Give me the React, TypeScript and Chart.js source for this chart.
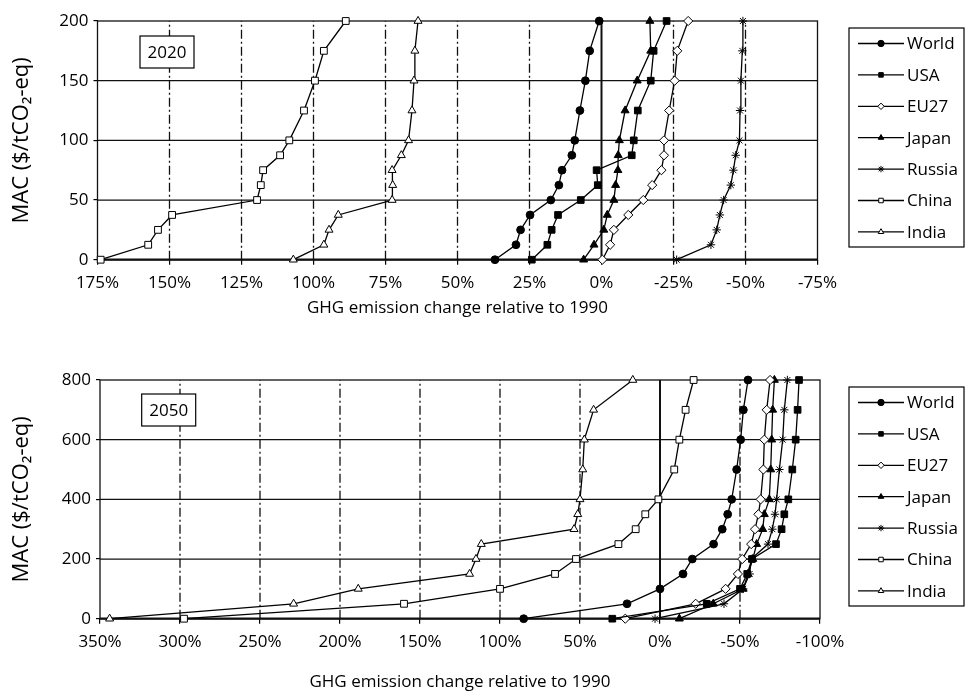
import React, { useEffect, useRef } from 'react';
import { Chart, registerables } from 'chart.js';

Chart.register(...registerables);

const FONT_FAMILY = "'Open Sans', 'Noto Sans', sans-serif";

// ---- series metadata ----
const seriesLabels = ['World', 'USA', 'EU27', 'Japan', 'Russia', 'China', 'India'];
const seriesMarkers = ['circle', 'rect', 'rectRot', 'triangle', 'star', 'rect', 'triangle'];
const seriesFilled = [true, true, false, true, true, false, false];
const markerRadius = [3.9, 4.7, 4.6, 4.6, 4.2, 4.8, 4.6];

// ---- 2020 panel ----
const mac2020 = [0, 12.5, 25, 37.5, 50, 62.5, 75, 87.5, 100, 125, 150, 175, 200];
const world2020 = [37.0, 29.7, 28.1, 24.8, 17.6, 14.8, 13.7, 10.3, 9.3, 7.5, 5.6, 4.1, 0.8];
const usa2020 = [24.2, 18.8, 17.3, 15.1, 7.2, 1.3, 1.7, -10.5, -11.2, -12.6, -17.1, -18.1, -22.6];
const eu2020 = [-0.3, -3.0, -4.3, -9.3, -14.5, -17.6, -20.8, -21.7, -21.7, -23.5, -25.4, -26.3, -30.1];
const japan2020 = [6.2, 2.6, -0.8, -2.0, -4.3, -4.9, -5.7, -5.8, -6.2, -8.2, -12.4, -17.1, -16.8];
const russia2020 = [-26.1, -38.0, -40.0, -41.1, -42.4, -44.9, -45.8, -46.6, -47.9, -48.1, -48.4, -48.9, -49.1];
const china2020 = [173.9, 157.4, 154.0, 149.1, 119.6, 118.3, 117.5, 111.6, 108.4, 103.3, 99.5, 96.4, 88.8];
const india2020 = [107.0, 96.4, 94.6, 91.4, 72.7, 72.5, 72.7, 69.5, 67.0, 65.8, 65.1, 64.8, 63.7];
const xTicks2020 = [175, 150, 125, 100, 75, 50, 25, 0, -25, -50, -75];
const yTicks2020 = [0, 50, 100, 150, 200];

// ---- 2050 panel ----
const mac2050 = [0, 50, 100, 150, 200, 250, 300, 350, 400, 500, 600, 700, 800];
const world2050 = [85.2, 20.6, 0, -14.4, -20.2, -33.5, -38.9, -42.3, -44.8, -47.9, -50.4, -52.1, -55.0];
const usa2050 = [29.8, -29.2, -50.0, -54.5, -57.5, -72.5, -76.0, -77.7, -80.2, -82.7, -84.8, -86.0, -86.9];
const eu2050 = [21.7, -22.3, -41.0, -48.7, -51.4, -57.0, -59.4, -61.5, -62.9, -64.6, -65.2, -66.7, -68.8];
const japan2050 = [-12.1, -33.3, -52.0, -55.0, -58.0, -60.4, -64.2, -65.2, -68.3, -69.2, -69.8, -70.4, -71.5];
const russia2050 = [3.1, -40.0, -52.0, -56.0, -57.0, -67.5, -70.2, -71.9, -72.9, -74.6, -76.7, -77.7, -79.6];
const china2050 = [297.5, 160.0, 100.0, 65.6, 52.5, 26.0, 15.2, 9.2, 1.0, -8.9, -12.1, -16.0, -21.0];
const india2050 = [344.0, 229.0, 188.6, 119.0, 115.0, 111.7, 53.7, 51.4, 50.0, 48.3, 47.3, 41.5, 17.0];
const xTicks2050 = [350, 300, 250, 200, 150, 100, 50, 0, -50, -100];
const yTicks2050 = [0, 200, 400, 600, 800];

const xTitle = 'GHG emission change relative to 1990';
const yTitle = 'MAC ($/tCO₂-eq)';

function drawMarker(ctx: CanvasRenderingContext2D, style: string, x: number, y: number, r: number, filled: boolean) {
  ctx.beginPath();
  if (style === 'circle') {
    ctx.arc(x, y, r, 0, Math.PI * 2);
  } else if (style === 'rect') {
    const s = r * Math.SQRT1_2;
    ctx.rect(x - s, y - s, 2 * s, 2 * s);
  } else if (style === 'rectRot') {
    ctx.moveTo(x, y - r);
    ctx.lineTo(x + r, y);
    ctx.lineTo(x, y + r);
    ctx.lineTo(x - r, y);
    ctx.closePath();
  } else if (style === 'triangle') {
    for (let k = 0; k < 3; k++) {
      const a = (k * 2 * Math.PI) / 3;
      const px = x + Math.sin(a) * r;
      const py = y - Math.cos(a) * r;
      if (k === 0) ctx.moveTo(px, py);
      else ctx.lineTo(px, py);
    }
    ctx.closePath();
  } else if (style === 'star') {
    const d = r * Math.SQRT1_2;
    ctx.moveTo(x - d, y - d); ctx.lineTo(x + d, y + d);
    ctx.moveTo(x - d, y + d); ctx.lineTo(x + d, y - d);
    ctx.moveTo(x, y - r); ctx.lineTo(x, y + r);
    ctx.moveTo(x - r, y); ctx.lineTo(x + r, y);
  }
  if (style !== 'star') {
    ctx.fillStyle = filled ? '#000' : '#fff';
    ctx.fill();
  }
  ctx.stroke();
}

type PanelSpec = {
  year: string;
  mac: number[];
  values: number[][];
  xTicks: number[];
  yTicks: number[];
  height: number;
  padTop: number;
  padRight: number;
  padLeft: number;
  padBottom: number;
  yAxisWidth: number;
  xAxisHeight: number;
  boxDx: number;
  boxDy: number;
};

function makePlugin(spec: PanelSpec) {
  return {
    id: 'panelDecor',
    beforeDatasetsDraw(chart: any) {
      const { ctx, chartArea: a, scales } = chart;
      const x = scales.x;
      const y = scales.y;
      ctx.save();
      ctx.strokeStyle = '#111';
      ctx.lineWidth = 1.2;
      ctx.setLineDash([]);
      for (const t of y.ticks) {
        if (t.value === y.min || t.value === y.max) continue;
        const py = y.getPixelForValue(t.value);
        ctx.beginPath();
        ctx.moveTo(a.left, py);
        ctx.lineTo(a.right, py);
        ctx.stroke();
      }
      for (const t of x.ticks) {
        if (t.value === x.min || t.value === x.max) continue;
        const px = x.getPixelForValue(t.value);
        ctx.beginPath();
        if (t.value === 0) {
          ctx.setLineDash([]);
          ctx.lineWidth = 2;
        } else {
          ctx.setLineDash([9, 3, 2, 3]);
          ctx.lineWidth = 1.3;
        }
        ctx.moveTo(px, a.bottom);
        ctx.lineTo(px, a.top);
        ctx.stroke();
      }
      ctx.setLineDash([]);
      ctx.lineWidth = 1.3;
      ctx.strokeRect(a.left, a.top, a.right - a.left, a.bottom - a.top);
      ctx.lineWidth = 2.2;
      ctx.beginPath();
      ctx.moveTo(a.left, a.bottom);
      ctx.lineTo(a.right, a.bottom);
      ctx.stroke();
      ctx.restore();
    },
    afterDraw(chart: any) {
      const { ctx, chartArea: a } = chart;
      ctx.save();
      // year box
      const bx = a.left + spec.boxDx;
      const by = a.top + spec.boxDy;
      const bw = 54;
      const bh = 32;
      ctx.fillStyle = '#fff';
      ctx.fillRect(bx, by, bw, bh);
      ctx.strokeStyle = '#000';
      ctx.lineWidth = 1.2;
      ctx.strokeRect(bx, by, bw, bh);
      ctx.fillStyle = '#000';
      ctx.font = `17px ${FONT_FAMILY}`;
      ctx.textAlign = 'center';
      ctx.textBaseline = 'middle';
      ctx.fillText(spec.year, bx + bw / 2, by + bh / 2 + 1);

      // legend
      const lx = 849;
      const ly = a.top + 7;
      const lw = 115;
      const lh = 219;
      ctx.fillStyle = '#fff';
      ctx.fillRect(lx, ly, lw, lh);
      ctx.lineWidth = 1.2;
      ctx.strokeRect(lx, ly, lw, lh);
      ctx.textAlign = 'left';
      seriesLabels.forEach((lab, i) => {
        const iy = ly + 15.5 + i * 31.4;
        ctx.strokeStyle = '#000';
        ctx.lineWidth = 1.3;
        ctx.beginPath();
        ctx.moveTo(lx + 9, iy);
        ctx.lineTo(lx + 55, iy);
        ctx.stroke();
        ctx.lineWidth = 1;
        drawMarker(ctx, seriesMarkers[i], lx + 32, iy, 3.2, seriesFilled[i]);
        ctx.fillStyle = '#000';
        ctx.fillText(lab, lx + 58, iy + 1);
      });
      ctx.restore();
    },
  };
}

function makeConfig(spec: PanelSpec): any {
  const datasets = seriesLabels.map((label, i) => ({
    label,
    data: spec.values[i].map((v, j) => ({ x: v, y: spec.mac[j] })),
    showLine: true,
    borderColor: '#000',
    borderWidth: 1.3,
    pointStyle: seriesMarkers[i],
    pointRadius: markerRadius[i],
    pointBackgroundColor: seriesFilled[i] ? '#000' : '#fff',
    pointBorderColor: '#000',
    pointBorderWidth: 1,
    tension: 0,
    clip: false,
    order: i,
  }));
  const tickFont = { family: FONT_FAMILY, size: 17 };
  const xs = spec.xTicks;
  const ys = spec.yTicks;
  return {
    type: 'scatter',
    data: { datasets },
    options: {
      responsive: false,
      animation: false,
      events: [],
      layout: { padding: { left: spec.padLeft, top: spec.padTop, right: spec.padRight, bottom: spec.padBottom } },
      plugins: { legend: { display: false }, tooltip: { enabled: false } },
      scales: {
        x: {
          type: 'linear',
          reverse: true,
          min: Math.min(...xs),
          max: Math.max(...xs),
          afterBuildTicks: (s: any) => {
            s.ticks = xs.map((v) => ({ value: v }));
          },
          afterFit: (s: any) => {
            s.height = spec.xAxisHeight;
          },
          ticks: {
            callback: (v: any) => `${v}%`,
            font: tickFont,
            color: '#000',
            padding: 8,
            maxRotation: 0,
            autoSkip: false,
          },
          grid: { drawOnChartArea: false, drawTicks: true, tickLength: 5, color: '#000', lineWidth: 1.2 },
          border: { display: false },
          title: {
            display: true,
            text: xTitle,
            color: '#000',
            font: { family: FONT_FAMILY, size: 17, lineHeight: 1 },
            padding: { top: 0, bottom: 0 },
          },
        },
        y: {
          type: 'linear',
          min: Math.min(...ys),
          max: Math.max(...ys),
          afterBuildTicks: (s: any) => {
            s.ticks = ys.map((v) => ({ value: v }));
          },
          afterFit: (s: any) => {
            s.width = spec.yAxisWidth;
          },
          ticks: {
            font: tickFont,
            color: '#000',
            padding: 5,
            autoSkip: false,
          },
          grid: { drawOnChartArea: false, drawTicks: true, tickLength: 4, color: '#000', lineWidth: 1.2 },
          border: { display: false },
          title: {
            display: true,
            text: yTitle,
            color: '#000',
            font: { family: FONT_FAMILY, size: 22, lineHeight: 1 },
            padding: { top: 0, bottom: 0 },
          },
        },
      },
    },
    plugins: [makePlugin(spec)],
  };
}

const panel2020: PanelSpec = {
  year: '2020',
  mac: mac2020,
  values: [world2020, usa2020, eu2020, japan2020, russia2020, china2020, india2020],
  xTicks: xTicks2020,
  yTicks: yTicks2020,
  height: 340,
  padTop: 21,
  padRight: 147.5,
  padLeft: 11,
  padBottom: 23.5,
  yAxisWidth: 86.5,
  xAxisHeight: 56.8,
  boxDx: 42.5,
  boxDy: 15,
};

const panel2050: PanelSpec = {
  year: '2050',
  mac: mac2050,
  values: [world2050, usa2050, eu2050, japan2050, russia2050, china2050, india2050],
  xTicks: xTicks2050,
  yTicks: yTicks2050,
  height: 351,
  padTop: 40,
  padRight: 145,
  padLeft: 11,
  padBottom: 0,
  yAxisWidth: 89,
  xAxisHeight: 72.3,
  boxDx: 41.7,
  boxDy: 14,
};

function Panel({ spec, top }: { spec: PanelSpec; top: number }) {
  const ref = useRef<HTMLCanvasElement | null>(null);
  useEffect(() => {
    if (!ref.current) return;
    const chart = new Chart(ref.current, makeConfig(spec));
    return () => chart.destroy();
  }, [spec]);
  return (
    <canvas
      ref={ref}
      width={965}
      height={spec.height}
      style={{ position: 'absolute', left: 0, top, width: 965, height: spec.height, display: 'block' }}
    />
  );
}

export default function App() {
  return (
    <div style={{ position: 'fixed', left: 0, top: 0, width: 965, height: 691, background: '#fff', overflow: 'hidden' }}>
      <Panel spec={panel2020} top={0} />
      <Panel spec={panel2050} top={340} />
    </div>
  );
}
